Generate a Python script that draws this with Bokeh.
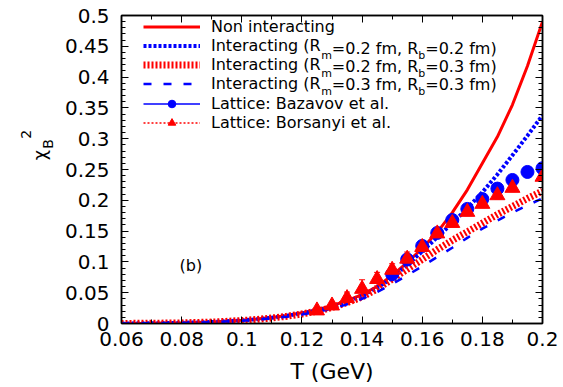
import math
from bokeh.plotting import figure
from bokeh.layouts import row
from bokeh.models import (Range1d, LinearAxis, FixedTicker, Label, Legend, LegendItem,
                          Whisker, TeeHead, ColumnDataSource, CustomLabelingPolicy)
from bokeh.embed import file_html
from bokeh.resources import INLINE

# ---------------- data ----------------
T_grid = [0.06, 0.07, 0.08, 0.09, 0.10, 0.105, 0.11, 0.115, 0.12, 0.125, 0.13, 0.135,
          0.14, 0.145, 0.15, 0.155, 0.16, 0.165, 0.17, 0.175, 0.18, 0.185, 0.19, 0.195, 0.20]
chi_non_interacting = [0.0001, 0.0004, 0.0011, 0.0025, 0.0052, 0.0072, 0.0098, 0.0131, 0.0173,
                       0.0225, 0.029, 0.037, 0.047, 0.060, 0.078, 0.099, 0.122, 0.148, 0.180,
                       0.217, 0.260, 0.303, 0.355, 0.418, 0.490]
chi_int_m02_b02 = [0.0001, 0.0004, 0.0011, 0.0024, 0.0050, 0.0070, 0.0094, 0.0125, 0.0165,
                   0.021, 0.027, 0.035, 0.045, 0.058, 0.074, 0.095, 0.117, 0.140, 0.163,
                   0.187, 0.213, 0.242, 0.273, 0.305, 0.338]
chi_int_m02_b03 = [0.0001, 0.0004, 0.0010, 0.0023, 0.0048, 0.0066, 0.0089, 0.0118, 0.0155,
                   0.020, 0.026, 0.034, 0.043, 0.056, 0.072, 0.088, 0.104, 0.120, 0.135,
                   0.149, 0.163, 0.177, 0.190, 0.203, 0.215]
chi_int_m03_b03 = [0.0001, 0.0004, 0.0010, 0.0022, 0.0045, 0.0062, 0.0083, 0.0110, 0.0145,
                   0.019, 0.024, 0.031, 0.040, 0.051, 0.064, 0.078, 0.093, 0.108, 0.123,
                   0.139, 0.154, 0.167, 0.180, 0.192, 0.203]

baz_T = [0.15, 0.155, 0.16, 0.165, 0.17, 0.175, 0.18, 0.185, 0.19, 0.195, 0.20]
baz_chi = [0.080, 0.104, 0.126, 0.147, 0.168, 0.186, 0.202, 0.219, 0.233, 0.246, 0.252]
baz_err = [0.006, 0.006, 0.005, 0.005, 0.005, 0.005, 0.005, 0.005, 0.005, 0.005, 0.005]

bor_T = [0.125, 0.13, 0.135, 0.14, 0.145, 0.15, 0.155, 0.16, 0.165, 0.17, 0.175, 0.18,
         0.185, 0.19, 0.20]
bor_chi = [0.021, 0.029, 0.041, 0.056, 0.072, 0.087, 0.105, 0.124, 0.146, 0.163, 0.181,
           0.194, 0.208, 0.220, 0.238]
bor_err = [0.003, 0.006, 0.010, 0.015, 0.011, 0.010, 0.011, 0.008, 0.007, 0.006, 0.006,
           0.006, 0.006, 0.006, 0.006]

x_ticks = [0.06, 0.08, 0.10, 0.12, 0.14, 0.16, 0.18, 0.20]
x_tick_labels = ["0.06", "0.08", "0.1", "0.12", "0.14", "0.16", "0.18", "0.2"]
x_minor = [0.06, 0.07, 0.08, 0.09, 0.10, 0.11, 0.12, 0.13, 0.14, 0.15, 0.16, 0.17, 0.18, 0.19, 0.20]
y_ticks = [0, 0.05, 0.1, 0.15, 0.2, 0.25, 0.3, 0.35, 0.4, 0.45, 0.5]
y_tick_labels = ["0", "0.05", "0.1", "0.15", "0.2", "0.25", "0.3", "0.35", "0.4", "0.45", "0.5"]
y_minor = [i / 100 for i in range(0, 51)]

legend_names = ["Non interacting", "Interacting", "Lattice: Bazavov et al.",
                "Lattice: Borsanyi et al."]
Rm_values = ["0.2", "0.2", "0.3"]
Rb_values = ["0.2", "0.3", "0.3"]
x_title = "T (GeV)"
y_title = ["χ", "B", "2"]
panel_tag = "(b)"

# ---------------- layout constants (page has no margin) ----------------
FONT = "DejaVu Sans"
X0, X1, Y0, Y1 = 0.06, 0.20, 0.0, 0.5
LW = 56                      # width of the side strip that carries the y title
FL, FT, FW, FH = 121, 15, 421, 308   # frame left/top on the page, frame size
MAIN_LEFT = FL - LW


def dx(px):
    return X0 + (px - FL) * (X1 - X0) / FW


def dy(py):
    return Y1 - (py - FT) * (Y1 - Y0) / FH


# DejaVu Sans advance widths (per 1000 em)
W = {' ': 318, '(': 390, ')': 390, ',': 318, '.': 318, ':': 337, '=': 838,
     '0': 636, '1': 636, '2': 636, '3': 636, '4': 636, '5': 636, '6': 636, '7': 636,
     '8': 636, '9': 636, 'I': 295, 'R': 695, 'a': 613, 'b': 635, 'c': 550, 'e': 615,
     'f': 352, 'g': 635, 'i': 278, 'm': 974, 'n': 634, 'r': 411, 't': 392}


def tw(s, size):
    return sum(W.get(c, 600) for c in s) * size / 1000.0


p = figure(frame_width=FW, frame_height=FH, x_range=Range1d(X0, X1), y_range=Range1d(Y0, Y1),
           output_backend="svg", toolbar_location=None,
           min_border_left=MAIN_LEFT, min_border_right=12, min_border_top=FT, min_border_bottom=0)
p.grid.visible = False
p.outline_line_color = "black"
p.outline_line_width = 1.5
p.background_fill_color = "white"
p.border_fill_color = "white"

hide_labels = CustomLabelingPolicy(code="""
    if (typeof indices.clear === "function") {
        indices.clear()
    } else {
        for (let i = 0; i < indices.size; i++) { indices.unset(i) }
    }
    return indices
""")


def style_axis(ax, ticks, minor, labels, show):
    ax.ticker = FixedTicker(ticks=ticks, minor_ticks=minor)
    ax.axis_line_color = "black"
    ax.axis_line_width = 1.5
    ax.major_tick_in = 7
    ax.major_tick_out = 0
    ax.minor_tick_in = 4
    ax.minor_tick_out = 0
    ax.major_tick_line_color = "black"
    ax.minor_tick_line_color = "black"
    ax.major_tick_line_width = 1
    ax.minor_tick_line_width = 1
    if show:
        ax.major_label_overrides = {t: s for t, s in zip(ticks, labels)}
        ax.major_label_text_font = FONT
        ax.major_label_text_font_size = "20px"
        ax.major_label_text_color = "black"
    else:
        ax.major_label_policy = hide_labels
        ax.major_label_standoff = 0


xa = p.below[0]
ya = p.left[0]
style_axis(xa, x_ticks, x_minor, x_tick_labels, True)
style_axis(ya, y_ticks, y_minor, y_tick_labels, True)
xa.major_label_standoff = 8
ya.major_label_standoff = 12
xa.axis_label = x_title
xa.axis_label_text_font = FONT
xa.axis_label_text_font_size = "22px"
xa.axis_label_text_font_style = "normal"
xa.axis_label_text_color = "black"
xa.axis_label_standoff = 10

top = LinearAxis()
style_axis(top, x_ticks, x_minor, x_tick_labels, False)
p.add_layout(top, "above")
right = LinearAxis()
style_axis(right, y_ticks, y_minor, y_tick_labels, False)
p.add_layout(right, "right")

# ---------------- curves ----------------
r_non = p.line(T_grid, chi_non_interacting, line_color="red", line_width=3)
r_i1 = p.line(T_grid, chi_int_m02_b02, line_color="blue", line_width=4, line_dash="3 2")
r_i2 = p.line(T_grid, chi_int_m02_b03, line_color="red", line_width=7, line_dash="2 2")
r_i3 = p.line(T_grid, chi_int_m03_b03, line_color="blue", line_width=2.5, line_dash="8 12")

# ---------------- lattice points ----------------
baz_src = ColumnDataSource(dict(x=baz_T, y=baz_chi,
                                lo=[v - e for v, e in zip(baz_chi, baz_err)],
                                hi=[v + e for v, e in zip(baz_chi, baz_err)]))
bor_src = ColumnDataSource(dict(x=bor_T, y=bor_chi,
                                lo=[v - e for v, e in zip(bor_chi, bor_err)],
                                hi=[v + e for v, e in zip(bor_chi, bor_err)]))
p.add_layout(Whisker(source=baz_src, base="x", lower="lo", upper="hi", line_color="blue",
                     line_width=1.2, upper_head=TeeHead(size=6, line_color="blue"),
                     lower_head=TeeHead(size=6, line_color="blue")))
r_baz = p.scatter("x", "y", source=baz_src, marker="circle", size=13, fill_color="blue",
                  line_color="blue")
p.add_layout(Whisker(source=bor_src, base="x", lower="lo", upper="hi", line_color="red",
                     line_width=1.2, upper_head=TeeHead(size=6, line_color="red"),
                     lower_head=TeeHead(size=6, line_color="red")))
r_bor = p.scatter("x", "y", source=bor_src, marker="triangle", size=15, fill_color="red",
                  line_color="red")

# legend-only sample lines for the lattice entries (nothing is drawn in the plot)
nan = float("nan")
r_baz_line = p.line(x=[nan], y=[nan], line_color="blue", line_width=1.3)
r_bor_line = p.line(x=[nan], y=[nan], line_color="red", line_width=1.3, line_dash="2 2")

# ---------------- legend ----------------
LEG_X = 22
ROW_H = 19
SPACING = -1
GW = 57
STANDOFF = 11
first_label = legend_names[1] + " (R"


def make_legend(items, top_offset):
    n = len(items)
    height = n * ROW_H + (n - 1) * SPACING
    lg = Legend(items=items, location=(LEG_X, FH - top_offset - height), glyph_width=GW,
                glyph_height=ROW_H, label_height=ROW_H, spacing=SPACING, padding=0, margin=0,
                label_standoff=STANDOFF, label_text_font=FONT, label_text_font_size="16px",
                label_text_color="black", border_line_color=None, background_fill_alpha=0)
    return lg


LEG1_TOP = 5
LEG2_TOP = 80
leg1 = make_legend([LegendItem(label=legend_names[0], renderers=[r_non]),
                    LegendItem(label=first_label, renderers=[r_i1]),
                    LegendItem(label=first_label, renderers=[r_i2]),
                    LegendItem(label=first_label, renderers=[r_i3])], LEG1_TOP)
leg2 = make_legend([LegendItem(label=legend_names[2], renderers=[r_baz_line, r_baz]),
                    LegendItem(label=legend_names[3], renderers=[r_bor_line, r_bor])], LEG2_TOP)
p.add_layout(leg1)
p.add_layout(leg2)

# remaining pieces of the "Interacting (R_m=..., R_b=...)" labels (with subscripts)
text_x0 = FL + LEG_X + GW + STANDOFF
for i in range(3):
    cy = FT + LEG1_TOP + ROW_H / 2.0 + (ROW_H + SPACING) * (i + 1)
    xs = text_x0 + tw(first_label, 16)
    pieces = [("m", 11, 7.3), ("=" + Rm_values[i] + " fm, R", 16, 0.0),
              ("b", 11, 7.3), ("=" + Rb_values[i] + " fm)", 16, 0.0)]
    for txt, size, off in pieces:
        p.add_layout(Label(x=dx(xs), y=dy(cy + off), text=txt, text_font=FONT,
                           text_font_size=f"{size}px", text_color="black",
                           text_align="left", text_baseline="middle"))
        xs += tw(txt, size)

# panel tag
p.add_layout(Label(x=dx(179), y=dy(265), text=panel_tag, text_font=FONT, text_font_size="16px",
                   text_color="black", text_align="left", text_baseline="alphabetic"))

# ---------------- y title strip: chi_B^2 (rotated) ----------------
LH = 340
strip = figure(width=LW, height=LH, x_range=Range1d(0, LW), y_range=Range1d(LH, 0),
               x_axis_type=None, y_axis_type=None, output_backend="svg", toolbar_location=None,
               min_border=0, outline_line_color=None)
strip.grid.visible = False
strip.background_fill_color = "white"
strip.border_fill_color = "white"
for txt, size, bx, by in [(y_title[0], 18, 38.8, 188), (y_title[1], 14, 47, 173),
                          (y_title[2], 14, 25, 160)]:
    strip.add_layout(Label(x=bx, y=by, text=txt, text_font=FONT, text_font_size=f"{size}px",
                           text_color="black", angle=math.pi / 2, text_align="left",
                           text_baseline="alphabetic"))

layout = row(strip, p, spacing=0)
open("out.html", "w").write(file_html(layout, INLINE))
